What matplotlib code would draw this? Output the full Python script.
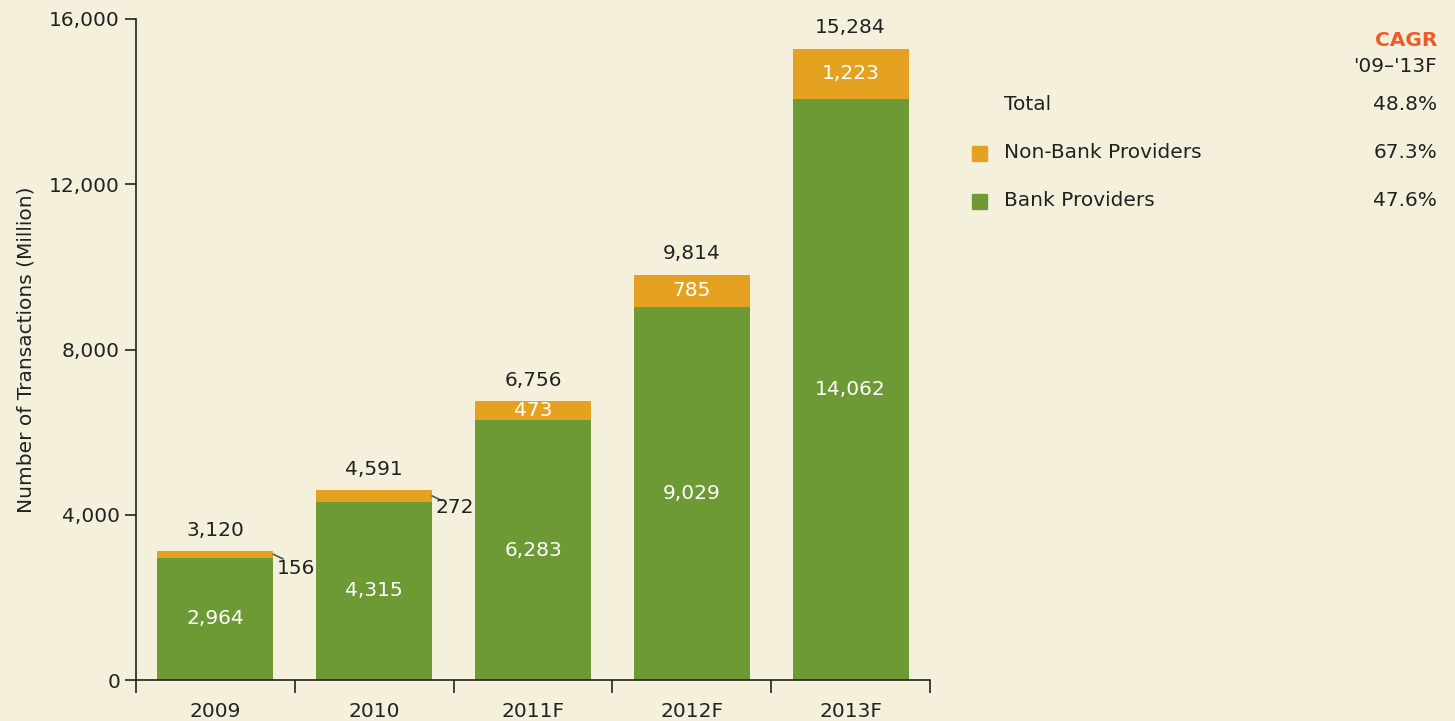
import matplotlib.pyplot as plt
import numpy as np

plt.rcParams['font.family'] = ['DejaVu Sans']

years = ["2009", "2010", "2011F", "2012F", "2013F"]
bank = [2964, 4315, 6283, 9029, 14062]
non_bank = [156, 272, 473, 785, 1223]
totals = [3120, 4591, 6756, 9814, 15284]
series_names = ["Total", "Non-Bank Providers", "Bank Providers"]
cagr = ["48.8%", "67.3%", "47.6%"]

BG = '#F5F0DC'
GREEN = '#6E9A35'
ORANGE = '#E4A220'
CAGR_COL = '#EE5A2A'
TXT = '#222222'
FS = 14.5

fig = plt.figure(figsize=(14.55, 7.21), dpi=100, facecolor=BG)
ax = fig.add_axes([136 / 1455, 41 / 721, 794 / 1455, 661 / 721])
ax.set_facecolor(BG)

x = np.arange(len(years))
w = 0.73
ax.bar(x, bank, width=w, color=GREEN, linewidth=0, zorder=2)
ax.bar(x, non_bank, width=w, bottom=bank, color=ORANGE, linewidth=0, zorder=2)

for i in range(len(years)):
    ax.text(x[i], bank[i] / 2, f"{bank[i]:,}", ha='center', va='center',
            color='white', fontsize=FS, zorder=3)
    ax.annotate(f"{totals[i]:,}", (x[i], totals[i]), xytext=(0, 8),
                textcoords='offset points', ha='center', va='bottom',
                color=TXT, fontsize=FS)
    if non_bank[i] < 400:
        # small segment: label outside with a short leader line
        x0 = x[i] + w / 2
        y0 = totals[i] - non_bank[i] / 2
        ax.plot([x0, x0 + 0.06], [y0, y0 - 110], color='#555555', lw=1.2,
                clip_on=False, zorder=3)
        ax.text(x0 + 0.02, totals[i] - 420, f"{non_bank[i]:,}", ha='left',
                va='center', color=TXT, fontsize=FS)
    else:
        ax.text(x[i], bank[i] + non_bank[i] / 2, f"{non_bank[i]:,}", ha='center',
                va='center', color='white', fontsize=FS, zorder=3)

ax.set_xlim(-0.5, len(years) - 0.5)
ax.set_ylim(0, 16000)
ax.set_yticks([0, 4000, 8000, 12000, 16000])
ax.set_yticklabels([f"{v:,}" for v in [0, 4000, 8000, 12000, 16000]])
ax.set_xticks(x)
ax.set_xticklabels(years)
ax.set_xticks(np.arange(len(years) + 1) - 0.5, minor=True)
ax.tick_params(axis='x', which='major', length=0, pad=16, labelsize=FS, labelcolor=TXT)
ax.tick_params(axis='x', which='minor', length=9, width=1.2, direction='out', color=TXT)
ax.tick_params(axis='y', length=8, width=1.2, direction='out', labelsize=FS, labelcolor=TXT, color=TXT)
for s in ['top', 'right']:
    ax.spines[s].set_visible(False)
for s in ['left', 'bottom']:
    ax.spines[s].set_linewidth(1.2)
    ax.spines[s].set_color(TXT)
ax.set_ylabel("Number of Transactions (Million)", fontsize=FS, color=TXT, labelpad=10)

# legend with CAGR column
fig.text(1437 / 1455, 1 - 40 / 721, "CAGR", ha='right', va='center', color=CAGR_COL,
         fontsize=FS, fontweight='bold')
fig.text(1437 / 1455, 1 - 66 / 721, "'09\u2013'13F", ha='right', va='center', color=TXT, fontsize=FS)
leg_y = [105, 153, 201]
sw_cols = [None, ORANGE, GREEN]
for name, val, yy, col in zip(series_names, cagr, leg_y, sw_cols):
    fig.text(1004 / 1455, 1 - yy / 721, name, ha='left', va='center', color=TXT, fontsize=FS)
    fig.text(1437 / 1455, 1 - yy / 721, val, ha='right', va='center', color=TXT, fontsize=FS)
    if col is not None:
        fig.patches.append(plt.Rectangle((972 / 1455, 1 - (yy + 8) / 721), 15 / 1455, 15 / 721,
                                         transform=fig.transFigure, color=col))

fig.savefig("out.png", dpi=100, facecolor=BG)
